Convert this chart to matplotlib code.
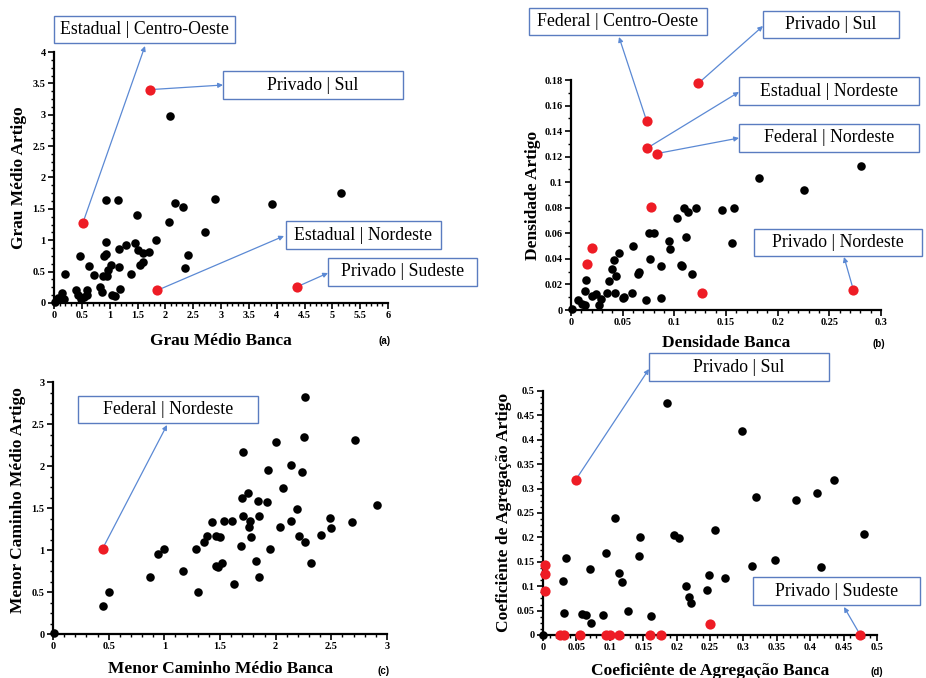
import matplotlib.pyplot as plt
from matplotlib.patches import Rectangle
from matplotlib.ticker import MultipleLocator, AutoMinorLocator, FuncFormatter

# (a) Grau Médio
a_bx = [2.08, 0.94, 1.15, 2.89, 5.15, 3.92, 2.18, 2.32, 1.49, 2.06, 2.71, 1.84, 0.94, 1.30,
        1.46, 1.16, 1.51, 1.59, 1.70, 0.47, 0.90, 0.94, 2.41, 1.03, 0.97, 1.16, 0.62, 1.54,
        1.59, 2.35, 0.19, 0.72, 1.38, 0.88, 0.95, 0.83, 0.87, 1.18, 0.15, 0.39, 0.44, 0.59,
        0.60, 0.53, 1.04, 1.10, 0.07, 0.18, 0.49, 0.01]
a_by = [2.98, 1.64, 1.64, 1.66, 1.75, 1.57, 1.59, 1.53, 1.40, 1.29, 1.13, 1.00, 0.98, 0.93,
        0.96, 0.86, 0.85, 0.80, 0.81, 0.75, 0.75, 0.78, 0.77, 0.61, 0.53, 0.58, 0.59, 0.61,
        0.66, 0.56, 0.47, 0.44, 0.47, 0.43, 0.43, 0.26, 0.18, 0.22, 0.16, 0.20, 0.13, 0.21,
        0.12, 0.10, 0.12, 0.11, 0.08, 0.06, 0.07, 0.02]
a_rx = [0.52, 1.72, 1.85, 4.37]
a_ry = [1.28, 3.40, 0.20, 0.26]

# (b) Densidade
b_bx = [0.2806, 0.1819, 0.2258, 0.1090, 0.1135, 0.1213, 0.1465, 0.1574, 0.1023, 0.0758,
        0.0800, 0.0948, 0.1110, 0.1561, 0.0958, 0.0603, 0.0468, 0.0413, 0.0768, 0.0394,
        0.0432, 0.0368, 0.0645, 0.0661, 0.0871, 0.1061, 0.1071, 0.1168, 0.0145, 0.0139,
        0.0348, 0.0426, 0.0590, 0.0500, 0.0516, 0.0871, 0.0729, 0.0065, 0.0203, 0.0245,
        0.0287, 0.0274, 0.0110, 0.0139, 0.0010]
b_by = [0.1124, 0.1033, 0.0939, 0.0796, 0.0764, 0.0796, 0.0785, 0.0796, 0.0723, 0.0605,
        0.0600, 0.0537, 0.0574, 0.0524, 0.0477, 0.0501, 0.0446, 0.0389, 0.0402, 0.0321,
        0.0269, 0.0227, 0.0279, 0.0297, 0.0347, 0.0352, 0.0347, 0.0279, 0.0237, 0.0146,
        0.0130, 0.0136, 0.0130, 0.0097, 0.0102, 0.0097, 0.0078, 0.0076, 0.0107, 0.0125,
        0.0086, 0.0037, 0.0047, 0.0039, 0.0005]
b_rx = [0.0732, 0.0739, 0.0829, 0.1232, 0.0774, 0.0203, 0.0152, 0.1271, 0.2732]
b_ry = [0.148, 0.1268, 0.1224, 0.1774, 0.0806, 0.0483, 0.0360, 0.0136, 0.0159]

# (c) Menor Caminho Médio
c_bx = [2.26, 2.25, 2.71, 2.00, 1.71, 1.93, 2.14, 2.24, 2.07, 1.70, 1.75, 1.84, 1.92, 2.19,
        2.91, 1.71, 1.85, 1.43, 1.54, 1.61, 1.77, 2.14, 2.49, 2.69, 1.76, 2.04, 2.50, 1.38,
        1.46, 1.50, 1.78, 2.21, 2.41, 1.36, 2.26, 1.69, 0.94, 1.00, 1.28, 1.95, 1.82, 1.46,
        1.48, 1.52, 2.32, 1.17, 0.87, 1.85, 1.63, 1.30, 0.50, 0.45, 0.006]
c_by = [2.82, 2.35, 2.31, 2.28, 2.17, 1.95, 2.01, 1.93, 1.74, 1.62, 1.68, 1.58, 1.57, 1.49,
        1.54, 1.41, 1.40, 1.33, 1.35, 1.35, 1.35, 1.35, 1.38, 1.33, 1.27, 1.27, 1.26, 1.17,
        1.17, 1.16, 1.16, 1.17, 1.18, 1.09, 1.10, 1.05, 0.95, 1.01, 1.01, 1.01, 0.87, 0.81,
        0.80, 0.84, 0.84, 0.75, 0.68, 0.68, 0.59, 0.50, 0.50, 0.33, 0.01]
c_rx = [0.446]
c_ry = [1.017]

# (d) Coeficiente de Agregação
d_bx = [0.185, 0.298, 0.435, 0.3185, 0.378, 0.4095, 0.1085, 0.1955, 0.2035, 0.145, 0.2575,
        0.481, 0.0945, 0.0345, 0.144, 0.3135, 0.347, 0.416, 0.071, 0.114, 0.2485, 0.272,
        0.030, 0.119, 0.214, 0.246, 0.218, 0.2215, 0.1275, 0.0315, 0.058, 0.065, 0.0905,
        0.161, 0.0715, 0.0]
d_by = [0.476, 0.419, 0.318, 0.283, 0.277, 0.292, 0.240, 0.205, 0.199, 0.201, 0.215,
        0.206, 0.168, 0.158, 0.162, 0.142, 0.153, 0.139, 0.136, 0.128, 0.123, 0.117,
        0.111, 0.109, 0.100, 0.092, 0.077, 0.066, 0.050, 0.045, 0.044, 0.042, 0.040,
        0.038, 0.024, 0.0]
d_rx = [0.049, 0.2495, 0.475, 0.0025, 0.0025, 0.0025, 0.026, 0.031, 0.056, 0.095, 0.100,
        0.114, 0.160, 0.176]
d_ry = [0.318, 0.022, 0.0, 0.143, 0.124, 0.091, 0.0, 0.0, 0.0, 0.0, 0.0, 0.0, 0.0, 0.0]

W, H = 926, 678
RED = "#ee1c25"
BOX = "#5a7cc0"
ARROW = "#5b89d4"
SERIF = ["Liberation Serif", "DejaVu Serif"]

fig = plt.figure(figsize=(W / 100, H / 100), dpi=100)


def fx(px):
    return px / W


def fy(py):
    return 1 - py / H


def make_ax(l, t, r, b, xlim, ylim, xmaj, ymaj):
    ax = fig.add_axes([fx(l), fy(b), (r - l) / W, (b - t) / H])
    ax.set_xlim(*xlim)
    ax.set_ylim(*ylim)
    for s in ["top", "right"]:
        ax.spines[s].set_visible(False)
    for s in ["left", "bottom"]:
        ax.spines[s].set_linewidth(1.6)
    ax.xaxis.set_major_locator(MultipleLocator(xmaj))
    ax.yaxis.set_major_locator(MultipleLocator(ymaj))
    ax.xaxis.set_minor_locator(AutoMinorLocator(5))
    ax.yaxis.set_minor_locator(AutoMinorLocator(4))
    fmt = FuncFormatter(lambda v, p: "%g" % round(v, 4))
    ax.xaxis.set_major_formatter(fmt)
    ax.yaxis.set_major_formatter(fmt)
    ax.tick_params(which="major", length=4, width=1.2, labelsize=7.5, pad=2)
    ax.tick_params(which="minor", length=2, width=1.0)
    for lab in ax.get_xticklabels() + ax.get_yticklabels():
        lab.set_fontfamily(SERIF)
        lab.set_fontweight("bold")
    return ax


def plot_pts(ax, bx, by, rx, ry):
    ax.scatter(bx, by, s=38, color="black", zorder=3, clip_on=False, linewidths=0)
    ax.scatter(rx, ry, s=54, color=RED, zorder=4, clip_on=False, linewidths=0)


def callout(ax, text, box, tip, pt):
    x0, y0, x1, y1 = box
    fig.patches.append(Rectangle((fx(x0), fy(y1)), (x1 - x0) / W, (y1 - y0) / H,
                                 transform=fig.transFigure, facecolor="white",
                                 edgecolor=BOX, linewidth=1.0, zorder=5))
    fig.text(fx((x0 + x1) / 2), fy((y0 + y1) / 2), text, ha="center", va="center",
             fontsize=12.8, family=SERIF, zorder=6)
    ax.annotate("", xy=(fx(tip[0]), fy(tip[1])), xycoords="figure fraction",
                xytext=pt, textcoords="data", annotation_clip=False,
                arrowprops=dict(arrowstyle="-|>", color=ARROW, lw=0.9,
                                shrinkA=3, shrinkB=0, mutation_scale=7))


def labels(xl, xpos, yl, ypos, tag, tpos):
    fig.text(fx(xpos[0]), fy(xpos[1]), xl, ha="center", va="center", fontsize=12.5,
             fontweight="bold", family=SERIF)
    fig.text(fx(ypos[0]), fy(ypos[1]), yl, ha="center", va="center", fontsize=12.5,
             fontweight="bold", family=SERIF, rotation=90)
    fig.text(fx(tpos[0]), fy(tpos[1]), tag, ha="center", va="center", fontsize=7,
             fontweight="bold", family=["Liberation Sans", "DejaVu Sans"])


# (a)
ax_a = make_ax(54, 52, 388, 303, (0, 6), (0, 4), 0.5, 0.5)
plot_pts(ax_a, a_bx, a_by, a_rx, a_ry)
labels("Grau Médio Banca", (221, 341), "Grau Médio Artigo", (19, 178), "(a)", (385, 341))
callout(ax_a, "Estadual | Centro-Oeste", (54, 16, 235, 43), (145, 46), (a_rx[0], a_ry[0]))
callout(ax_a, "Privado | Sul", (223, 71, 403, 99), (223, 85), (a_rx[1], a_ry[1]))
callout(ax_a, "Estadual | Nordeste", (286, 221, 441, 249), (284, 236), (a_rx[2], a_ry[2]))
callout(ax_a, "Privado | Sudeste", (328, 258, 477, 286), (328, 273), (a_rx[3], a_ry[3]))

# (b)
ax_b = make_ax(571, 80, 881, 310, (0, 0.3), (0, 0.18), 0.05, 0.02)
ax_b.yaxis.set_minor_locator(AutoMinorLocator(2))
plot_pts(ax_b, b_bx, b_by, b_rx, b_ry)
labels("Densidade Banca", (726, 343), "Densidade Artigo", (533, 195), "(b)", (879, 344))
callout(ax_b, "Federal | Centro-Oeste", (529, 8, 707, 35), (619, 37), (b_rx[0], b_ry[0]))
callout(ax_b, "Privado | Sul", (763, 11, 899, 38), (763, 26), (b_rx[3], b_ry[3]))
callout(ax_b, "Estadual | Nordeste", (739, 77, 919, 105), (739, 92), (b_rx[1], b_ry[1]))
callout(ax_b, "Federal | Nordeste", (739, 124, 919, 152), (739, 138), (b_rx[2], b_ry[2]))
callout(ax_b, "Privado | Nordeste", (754, 229, 922, 256), (844, 257), (b_rx[8], b_ry[8]))

# (c)
ax_c = make_ax(53, 382, 387, 634, (0, 3), (0, 3), 0.5, 0.5)
plot_pts(ax_c, c_bx, c_by, c_rx, c_ry)
labels("Menor Caminho Médio Banca", (220, 669), "Menor Caminho Médio Artigo", (18, 500),
       "(c)", (384, 671))
callout(ax_c, "Federal | Nordeste", (78, 396, 258, 423), (167, 425), (c_rx[0], c_ry[0]))

# (d)
ax_d = make_ax(543, 391, 877, 635, (0, 0.5), (0, 0.5), 0.05, 0.05)
plot_pts(ax_d, d_bx, d_by, d_rx, d_ry)
labels("Coeficiênte de Agregação Banca", (710, 671), "Coeficiênte de Agregação Artigo",
       (504, 512), "(d)", (877, 672))
callout(ax_d, "Privado | Sul", (649, 353, 829, 381), (649, 369), (d_rx[0], d_ry[0]))
callout(ax_d, "Privado | Sudeste", (753, 577, 920, 605), (844, 607), (d_rx[2], d_ry[2]))

fig.savefig("out.png", dpi=100, facecolor="white")
